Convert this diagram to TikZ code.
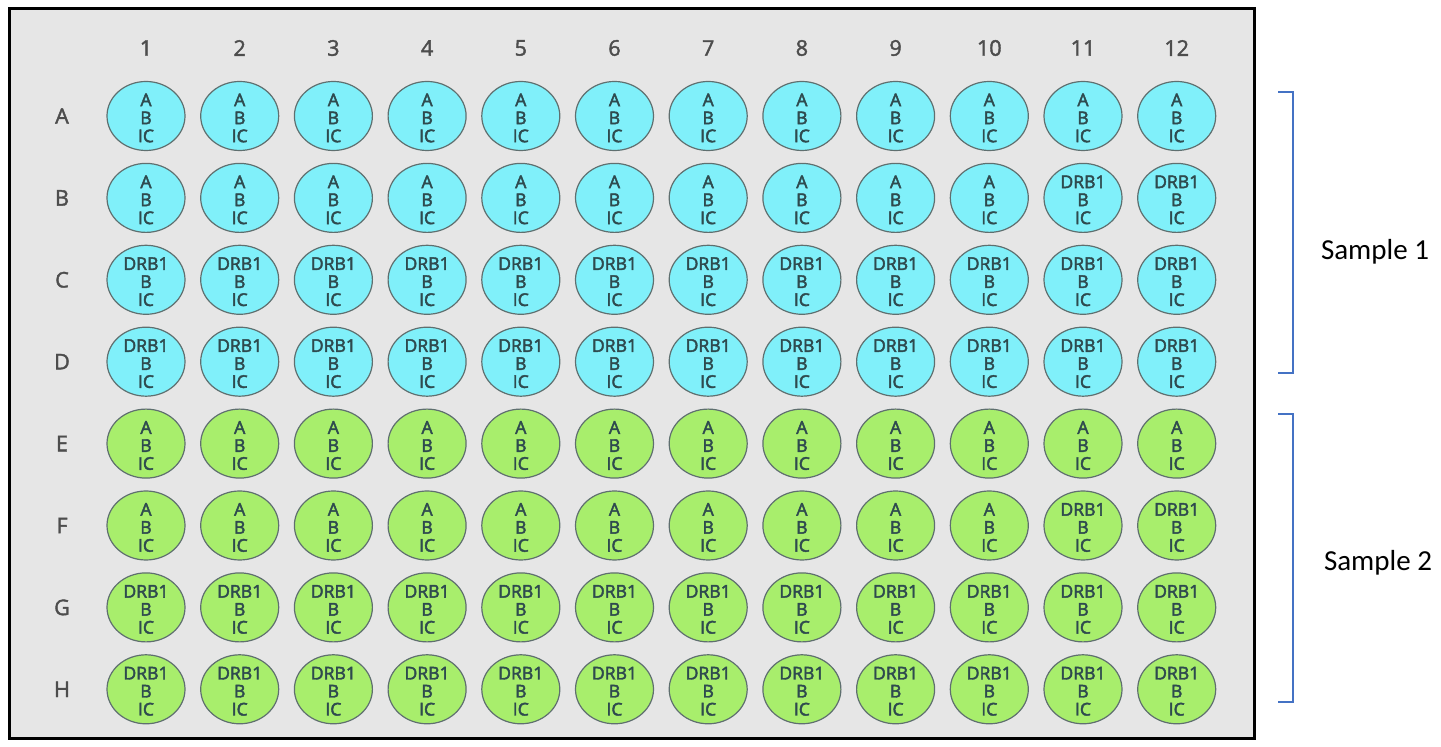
\documentclass[tikz,border=0pt]{standalone}
\usepackage{fontspec}
\setmainfont{Open Sans}
\newfontfamily\semifont[FakeBold=2.5]{Open Sans}
\newfontfamily\medfont[FakeBold=1.8]{Open Sans}
\newfontfamily\calibrifont{Carlito}
\usetikzlibrary{shapes.geometric}

\definecolor{plategray}{HTML}{E6E6E6}
\definecolor{wellcyan}{HTML}{80F0FA}
\definecolor{wellgreen}{HTML}{A8EE6C}
\definecolor{wellrim}{HTML}{5F6F6F}
\definecolor{welltextcol}{HTML}{2E4A4E}
\definecolor{labelgray}{HTML}{4D4D4D}
\definecolor{bracketblue}{HTML}{4472C4}

\tikzset{
  well/.style={ellipse, draw=wellrim, line width=0.6pt, minimum width=39pt,
    minimum height=34.5pt, inner sep=0pt},
  welltext/.style={align=center, inner sep=0pt, text=welltextcol,
    font=\semifont\fontsize{8.8}{9}\selectfont},
  collabel/.style={text=labelgray, font=\medfont\fontsize{10.8}{12}\selectfont},
  rowlabel/.style={text=labelgray, font=\medfont\fontsize{10.8}{12}\selectfont},
  samplebracket/.style={draw=bracketblue, line width=0.75pt},
  samplelabel/.style={font=\calibrifont\fontsize{14.5}{17}\selectfont}
}

\begin{document}
\begin{tikzpicture}[x=0.5pt, y=-0.5pt]
    % Page and plate
    \useasboundingbox (0,0) rectangle (1441,747);
    \fill[white] (0,0) rectangle (1441,747);
    \draw[fill=plategray, line width=1.5pt] (9,9) rectangle (1254,739);

    % Column numbers
    \foreach \col in {1,...,12}
        \node[collabel] (c\col) at ({146+(\col-1)*93.7},48) {\col};

    % Wells: rows A-D sample 1 (cyan), rows E-H sample 2 (green)
    \foreach \row [count=\i] in {A,B,C,D,E,F,G,H} {
        \pgfmathsetmacro\wy{116+(\i-1)*81.9}
        \node[rowlabel] (r\row) at (62,\wy) {\row};
        \foreach \col in {1,...,12} {
            \pgfmathsetmacro\wx{146+(\col-1)*93.7}
            \pgfmathtruncatemacro\isblue{\i<5}
            \pgfmathtruncatemacro\rowmod{mod(\i-1,4)}
            \pgfmathtruncatemacro\firstgene{(\rowmod==0) || (\rowmod==1 && \col<11)}
            \ifnum\isblue=1 \def\wellfill{wellcyan}\else\def\wellfill{wellgreen}\fi
            \ifnum\firstgene=1 \def\gene{A}\else\def\gene{DRB1}\fi
            \node[well, fill=\wellfill] (w\row\col) at (\wx,\wy) {};
            \node[welltext] at ([yshift=-1pt]w\row\col) {\gene\\B\\IC};
        }
    }

    % Brackets for the two samples
    \coordinate (s1top) at (1278,92);
    \coordinate (s1bot) at (1278,373);
    \coordinate (s2top) at (1278,414);
    \coordinate (s2bot) at (1278,702);
    \draw[samplebracket] (s1top) -- ++(15,0) |- (s1bot);
    \draw[samplebracket] (s2top) -- ++(15,0) |- (s2bot);

    \node[samplelabel] (sample1) at (1375,252) {Sample 1};
    \node[samplelabel] (sample2) at (1378,563) {Sample 2};
\end{tikzpicture}
\end{document}
